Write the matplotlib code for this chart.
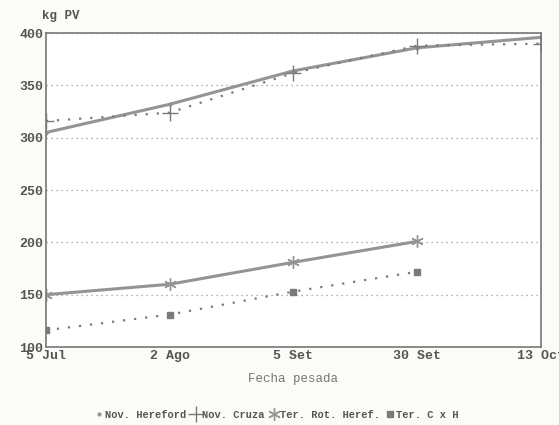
import matplotlib.pyplot as plt

fechas = ["5 Jul", "2 Ago", "5 Set", "30 Set", "13 Oct"]
nov_hereford = [305, 332, 364, 386, 396]
nov_cruza = [316, 324, 362, 388, 390]
ter_rot_heref = [150, 160, 181, 201]
ter_cxh = [116, 131, 153, 172]

plt.rcParams['font.family'] = ['Liberation Mono', 'DejaVu Sans Mono']
gris = '#949494'
gris_osc = '#7a7a7a'

fig = plt.figure(figsize=(5.59, 4.25), dpi=100, facecolor='#fbfbf8')
ax = fig.add_axes([0.082, 0.1835, 0.886, 0.7385])
ax.set_facecolor('white')

x = list(range(len(fechas)))
ax.plot(x, nov_hereford, color=gris, lw=2.2, marker='.', ms=4, label='Nov. Hereford')
ax.plot(x, nov_cruza, color=gris_osc, lw=1.6, ls=(0, (1, 4)), marker='+', ms=11,
        mew=1.0, label='Nov. Cruza')
ax.plot(x[:4], ter_rot_heref, color=gris, lw=2.2, marker=(6, 2, 0), ms=9, mew=1.0,
        label='Ter. Rot. Heref.')
ax.plot(x[:4], ter_cxh, color=gris_osc, lw=1.6, ls=(0, (1, 4)), marker='s', ms=4,
        label='Ter. C x H')

ax.set_xlim(0, 4)
ax.set_ylim(100, 400)
ax.set_xticks(x)
ax.set_xticklabels(fechas)
ax.set_yticks([100, 150, 200, 250, 300, 350, 400])
ax.tick_params(length=0, labelsize=9.5, colors='#555555', pad=2)
for lab in ax.get_xticklabels() + ax.get_yticklabels():
    lab.set_fontweight('bold')
ax.yaxis.grid(True, ls=(0, (1, 3)), color='#999999', lw=0.9)
for s in ax.spines.values():
    s.set_color('#777777')
    s.set_linewidth(1.2)

ax.set_xlabel('Fecha pesada', fontsize=9, color='#777777', labelpad=8)
fig.text(0.075, 0.955, 'kg PV', fontsize=9, fontweight='bold', color='#555555')

ax.legend(loc='upper center', bbox_to_anchor=(0.47, -0.17), ncol=4, frameon=False,
          fontsize=7.5, handlelength=0, handletextpad=0.6, columnspacing=0.9,
          labelcolor='#555555', prop={'weight': 'bold', 'size': 7.5})

fig.savefig('out.png', dpi=100, facecolor=fig.get_facecolor())
